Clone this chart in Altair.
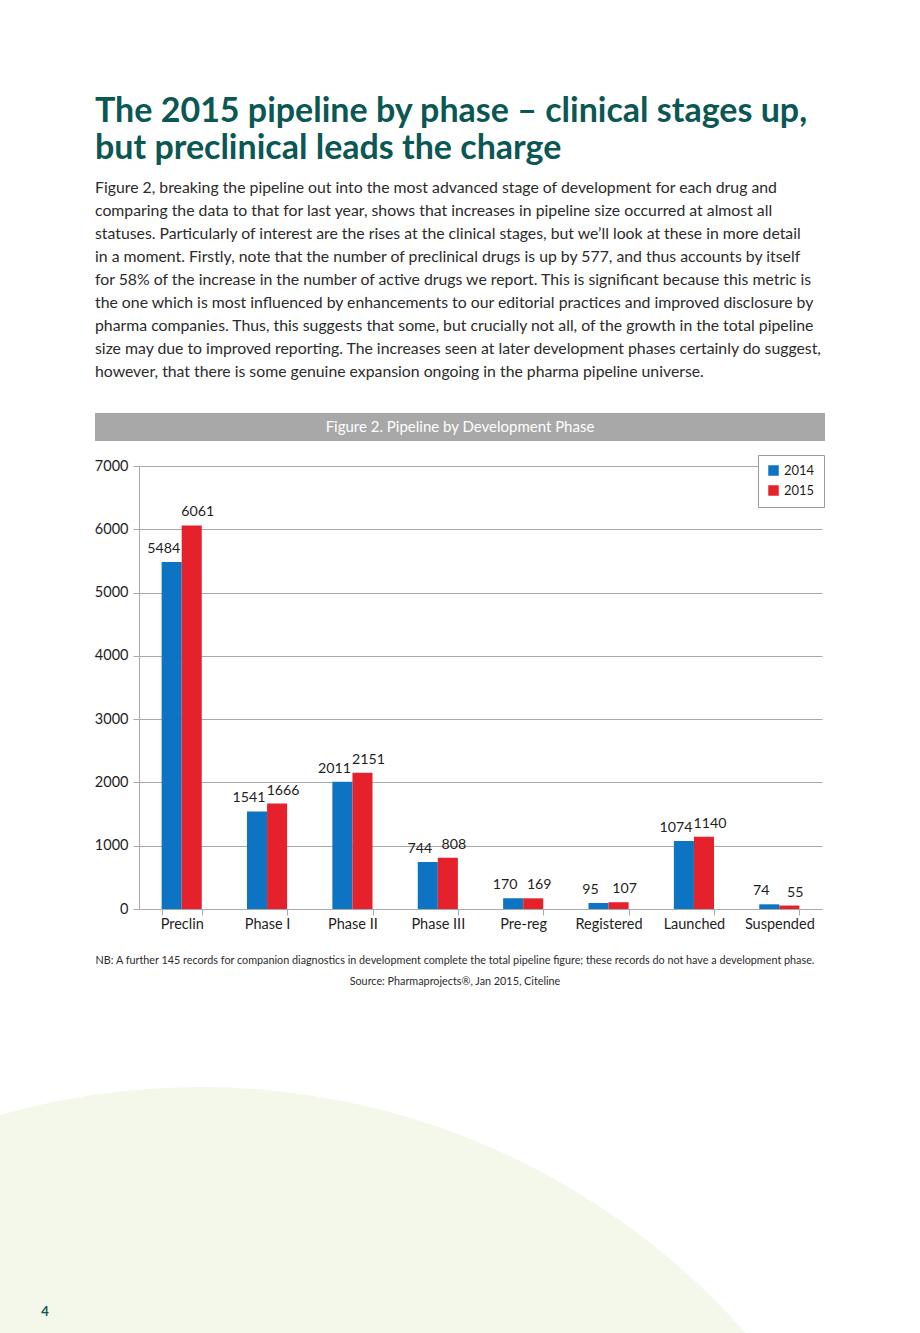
import altair as alt
import pandas as pd

phases = ["Preclin", "Phase I", "Phase II", "Phase III", "Pre-reg", "Registered", "Launched", "Suspended"]
v2014 = [5484, 1541, 2011, 744, 170, 95, 1074, 74]
v2015 = [6061, 1666, 2151, 808, 169, 107, 1140, 55]
years = ["2014", "2015"]

title_lines = ["The 2015 pipeline by phase \u2013 clinical stages up,", "but preclinical leads the charge"]
para_lines = [
    "Figure 2, breaking the pipeline out into the most advanced stage of development for each drug and",
    "comparing the data to that for last year, shows that increases in pipeline size occurred at almost all",
    "statuses. Particularly of interest are the rises at the clinical stages, but we\u2019ll look at these in more detail",
    "in a moment. Firstly, note that the number of preclinical drugs is up by 577, and thus accounts by itself",
    "for 58% of the increase in the number of active drugs we report. This is significant because this metric is",
    "the one which is most influenced by enhancements to our editorial practices and improved disclosure by",
    "pharma companies. Thus, this suggests that some, but crucially not all, of the growth in the total pipeline",
    "size may due to improved reporting. The increases seen at later development phases certainly do suggest,",
    "however, that there is some genuine expansion ongoing in the pharma pipeline universe.",
]
fig_title = "Figure 2. Pipeline by Development Phase"
footnote = "NB: A further 145 records for companion diagnostics in development complete the total pipeline figure; these records do not have a development phase."
source = "Source: Pharmaprojects\u00ae, Jan 2015, Citeline"
page_no = "4"

rows = []
for p, a, b in zip(phases, v2014, v2015):
    rows.append({"phase": p, "year": "2014", "value": a})
    rows.append({"phase": p, "year": "2015", "value": b})
df = pd.DataFrame(rows)

FONT = "Lato"
TEAL = "#0b5753"
BLUE = "#0c74c2"
RED = "#e5222b"
GRID = "#a9a9a9"

one = alt.Data(values=[{"k": 0}])

# plot-area origin is at page (139, 466)
OX, OY = 139, 466

circle = alt.Chart(one).mark_point(
    shape="circle", filled=True, opacity=1, color="#f3f8ea", size=2119936, strokeWidth=0
).encode(x=alt.value(200 - OX), y=alt.value(1815 - OY))

title = alt.Chart(one).mark_text(
    text=title_lines, font=FONT, fontWeight="bold", fontSize=34, color=TEAL,
    align="left", baseline="alphabetic", lineHeight=37
).encode(x=alt.value(95 - OX), y=alt.value(122 - OY))

para = alt.Chart(one).mark_text(
    text=para_lines, font=FONT, fontSize=15.8, color="#2b2b2b",
    align="left", baseline="alphabetic", lineHeight=23
).encode(x=alt.value(95 - OX), y=alt.value(193 - OY))

header = alt.Chart(one).mark_rect(color="#a8a8a8").encode(
    x=alt.value(95 - OX), x2=alt.value(825 - OX), y=alt.value(413 - OY), y2=alt.value(441 - OY)
)
header_text = alt.Chart(one).mark_text(
    text=fig_title, font=FONT, fontSize=15, color="white", align="center", baseline="middle"
).encode(x=alt.value(460 - OX), y=alt.value(427 - OY))

foot = alt.Chart(one).mark_text(
    text=footnote, font=FONT, fontSize=10.8, color="#2b2b2b", align="center", baseline="middle"
).encode(x=alt.value(455 - OX), y=alt.value(961 - OY))
src = alt.Chart(one).mark_text(
    text=source, font=FONT, fontSize=10.8, color="#2b2b2b", align="center", baseline="middle"
).encode(x=alt.value(455 - OX), y=alt.value(982 - OY))
page = alt.Chart(one).mark_text(
    text=page_no, font=FONT, fontSize=13, fontWeight="bold", color=TEAL, align="center", baseline="middle"
).encode(x=alt.value(45 - OX), y=alt.value(1312 - OY))

xenc = alt.X("phase:N", sort=phases, title=None,
             scale=alt.Scale(paddingInner=0.53, paddingOuter=0.265),
             axis=alt.Axis(labelAngle=0, tickBand="extent", tickSize=6, tickColor=GRID,
                           domainColor=GRID, labelFontSize=14.5, labelColor="#1e1e1e",
                           labelPadding=2, labelFont=FONT))
yenc = alt.Y("value:Q", title=None,
             scale=alt.Scale(domain=[0, 7000], nice=False),
             axis=alt.Axis(values=list(range(0, 7001, 1000)), format="d", grid=True, gridColor=GRID,
                           domainColor=GRID, tickColor=GRID, tickSize=6, labelFontSize=14.5,
                           labelColor="#1e1e1e", labelPadding=5, labelFont=FONT))

base = alt.Chart(df)
bars = base.mark_bar().encode(
    x=xenc,
    xOffset=alt.XOffset("year:N", sort=years),
    y=yenc,
    color=alt.Color("year:N", scale=alt.Scale(domain=years, range=[BLUE, RED]),
                    legend=alt.Legend(title=None, orient="none", legendX=619, legendY=-11,
                                      fillColor="white", strokeColor="#9a9a9a", padding=9,
                                      symbolType="square", symbolSize=110, labelFontSize=13,
                                      labelFont=FONT, labelColor="#1e1e1e", rowPadding=6)),
)

def labels(year, dx):
    return base.transform_filter(alt.datum.year == year).mark_text(
        font=FONT, fontSize=14.2, color="#1e1e1e", baseline="alphabetic", dy=-9, dx=dx
    ).encode(
        x=alt.X("phase:N", sort=phases),
        xOffset=alt.XOffset("year:N", sort=years),
        y=alt.Y("value:Q"),
        text=alt.Text("value:Q"),
    )

chart = alt.layer(
    circle, title, para, header, header_text, foot, src, page,
    bars, labels("2014", -8), labels("2015", 6)
).properties(
    width=683, height=443,
    autosize=alt.AutoSizeParams(type="none"),
    padding={"left": OX, "top": OY, "right": 920 - OX - 683, "bottom": 1333 - OY - 443},
    background="white",
).configure_view(stroke=None)

chart.save("out.html", embed_options={"renderer": "svg", "actions": False})
